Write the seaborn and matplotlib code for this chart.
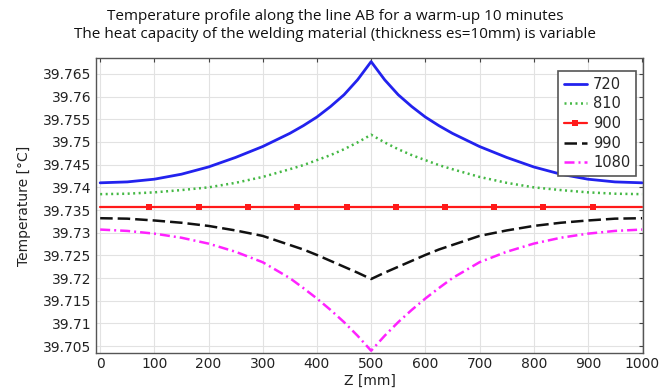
import matplotlib
matplotlib.use("Agg")
import matplotlib.pyplot as plt
import seaborn as sns

# position along AB [mm]
z_mm = [0, 50, 100, 150, 200, 250, 300, 350, 375, 400, 425, 450, 475, 500,
        525, 550, 575, 600, 625, 650, 700, 750, 800, 850, 900, 950, 1000]

# temperature, one series per heat capacity
t_720 = [39.7410, 39.7412, 39.7418, 39.7429, 39.7445, 39.7466, 39.7490, 39.7519,
         39.7536, 39.7555, 39.7578, 39.7604, 39.7637, 39.7677, 39.7637, 39.7604,
         39.7578, 39.7555, 39.7536, 39.7519, 39.7490, 39.7466, 39.7445, 39.7429,
         39.7418, 39.7412, 39.7410]
t_810 = [39.7385, 39.7386, 39.7389, 39.7394, 39.7400, 39.7410, 39.7423, 39.7440,
         39.7449, 39.7460, 39.7471, 39.7484, 39.7499, 39.7516, 39.7499, 39.7484,
         39.7471, 39.7460, 39.7449, 39.7440, 39.7423, 39.7410, 39.7400, 39.7394,
         39.7389, 39.7386, 39.7385]
t_990 = [39.7332, 39.7331, 39.7327, 39.7322, 39.7315, 39.7305, 39.7293, 39.7273,
         39.7263, 39.7251, 39.7238, 39.7225, 39.7212, 39.7198, 39.7212, 39.7225,
         39.7238, 39.7251, 39.7263, 39.7273, 39.7293, 39.7305, 39.7315, 39.7322,
         39.7327, 39.7331, 39.7332]
t_1080 = [39.7307, 39.7304, 39.7298, 39.7289, 39.7276, 39.7258, 39.7235, 39.7200,
          39.7178, 39.7155, 39.7130, 39.7103, 39.7073, 39.7040, 39.7073, 39.7103,
          39.7130, 39.7155, 39.7178, 39.7200, 39.7235, 39.7258, 39.7276, 39.7289,
          39.7298, 39.7304, 39.7307]

# 900 is flat, markers sit at the inner points
z_900 = [0, 91, 182, 273, 364, 455, 545, 636, 727, 818, 909, 1000]
t_900 = [39.7357] * len(z_900)

labels = ["720", "810", "900", "990", "1080"]

sns.set_style("whitegrid")
plt.rcParams["font.family"] = ["DejaVu Sans"]

fig = plt.figure(figsize=(6.61, 3.92), dpi=100)
ax = fig.add_axes([0.145, 0.0995, 0.828, 0.7525])

sns.lineplot(x=z_mm, y=t_720, ax=ax, color="#2222ee", lw=2.0, label=labels[0])
sns.lineplot(x=z_mm, y=t_810, ax=ax, color="#44b844", lw=1.8,
             linestyle=(0, (0.8, 1.4)), label=labels[1])
sns.lineplot(x=z_900, y=t_900, ax=ax, color="#ff1a1a", lw=1.6, marker="s",
             markersize=5, markeredgewidth=0, markevery=slice(1, 11), label=labels[2])
sns.lineplot(x=z_mm, y=t_990, ax=ax, color="#111111", lw=1.8,
             linestyle=(0, (5, 2)), label=labels[3])
sns.lineplot(x=z_mm, y=t_1080, ax=ax, color="#ff22ff", lw=1.8,
             linestyle=(0, (4, 1.6, 0.8, 1.6)), label=labels[4])

ax.set_xlim(-8, 1002)
ax.set_ylim(39.7035, 39.7685)
ax.set_xticks(range(0, 1001, 100))
ax.set_yticks([39.705, 39.71, 39.715, 39.72, 39.725, 39.73, 39.735, 39.74,
               39.745, 39.75, 39.755, 39.76, 39.765])
ax.set_yticklabels(["39.705", "39.71", "39.715", "39.72", "39.725", "39.73", "39.735",
                    "39.74", "39.745", "39.75", "39.755", "39.76", "39.765"])
ax.grid(True, color="#e2e2e2", lw=0.8)
ax.tick_params(direction="in", top=True, right=True, length=3, width=0.8,
               color="#444444", labelsize=10, labelcolor="#222222", pad=3)
for s in ax.spines.values():
    s.set_color("#555555")
    s.set_linewidth(1.0)

ax.set_xlabel("Z [mm]", fontsize=10, labelpad=2, color="#222222")
ax.set_ylabel("Temperature [°C]", fontsize=10, labelpad=9, color="#222222")

leg = ax.legend(loc="upper right", bbox_to_anchor=(0.987, 0.956), borderaxespad=0,
                fontsize=10.5, handlelength=1.6, labelspacing=0.32, fancybox=False,
                framealpha=1, handletextpad=0.4, borderpad=0.4)
leg.get_frame().set_edgecolor("#555555")
leg.get_frame().set_linewidth(1.2)

fig.text(0.507, 0.959, "Temperature profile along the line AB for a warm-up 10 minutes",
         ha="center", va="center", fontsize=11, family="Open Sans", color="#111111")
fig.text(0.507, 0.913, "The heat capacity of the welding material (thickness es=10mm) is variable",
         ha="center", va="center", fontsize=11, family="Open Sans", color="#111111")

fig.savefig("out.png", dpi=100)
